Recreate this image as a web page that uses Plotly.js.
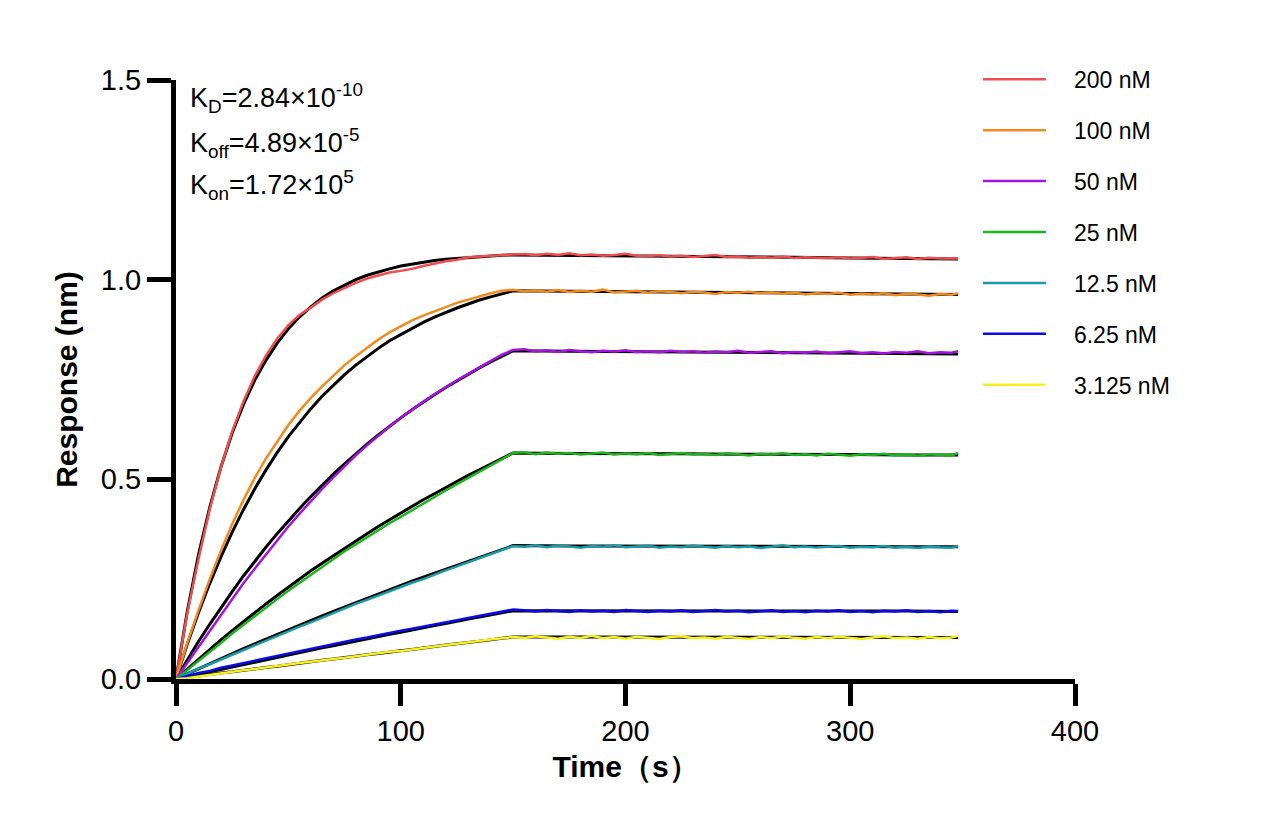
<!DOCTYPE html>
<html lang="en">
<head>
    <meta charset="UTF-8">
    <title>Binding kinetics</title>
    <script src="https://cdn.plot.ly/plotly-3.0.1.min.js"></script>
    <style>
        body { margin: 0; background: #fff; }
        #chart { width: 1284px; height: 832px; }
    </style>
</head>
<body>
<div id="chart"></div>
<script>
    // concentrations, legend names and colours
    var seriesNames = ['200 nM', '100 nM', '50 nM', '25 nM', '12.5 nM', '6.25 nM', '3.125 nM'];
    var seriesColors = ['#F04E4E', '#F28A1C', '#A414E0', '#1FB41F', '#1C9AA8', '#0B0BE6', '#FAF020'];

    // measured time points (s)
    var tData = [0, 5, 10, 15, 20, 25, 30, 35, 40, 45, 50, 55, 60, 65, 70, 75, 80, 85, 90, 95,
        100, 105, 110, 115, 120, 125, 130, 135, 140, 145, 150,
        155, 160, 165, 170, 175, 180, 185, 190, 195, 200, 205, 210, 215, 220, 225, 230, 235, 240, 245,
        250, 255, 260, 265, 270, 275, 280, 285, 290, 295, 300, 305, 310, 315, 320, 325, 330, 335, 340, 345, 348];

    // measured responses (nm)
    var data200 = [0, 0.165, 0.300, 0.425, 0.530, 0.620, 0.695, 0.758, 0.810, 0.852, 0.886, 0.912, 0.930, 0.950, 0.966, 0.980, 0.992, 1.003, 1.010, 1.018,
        1.022, 1.027, 1.034, 1.040, 1.046, 1.050, 1.056, 1.058, 1.060, 1.062, 1.063,
        1.064, 1.061, 1.065, 1.062, 1.066, 1.061, 1.063, 1.060, 1.062, 1.065, 1.060, 1.059, 1.061, 1.058, 1.060, 1.057, 1.059, 1.062, 1.057,
        1.058, 1.055, 1.057, 1.055, 1.058, 1.054, 1.056, 1.055, 1.054, 1.056, 1.053, 1.055, 1.057, 1.052, 1.054, 1.056, 1.052, 1.055, 1.053, 1.054, 1.053];
    var data100 = [0, 0.090, 0.172, 0.250, 0.322, 0.388, 0.448, 0.503, 0.552, 0.594, 0.636, 0.672, 0.704, 0.733, 0.760, 0.786, 0.808, 0.830, 0.850, 0.868,
        0.884, 0.898, 0.910, 0.921, 0.932, 0.942, 0.950, 0.958, 0.966, 0.972, 0.975,
        0.971, 0.973, 0.970, 0.974, 0.969, 0.972, 0.970, 0.975, 0.968, 0.970, 0.972, 0.967, 0.971, 0.969, 0.966, 0.970, 0.968, 0.964, 0.969,
        0.967, 0.970, 0.966, 0.968, 0.965, 0.968, 0.963, 0.966, 0.964, 0.967, 0.962, 0.965, 0.963, 0.966, 0.961, 0.965, 0.963, 0.960, 0.964, 0.962, 0.966];
    var data50 = [0, 0.040, 0.082, 0.122, 0.160, 0.200, 0.240, 0.276, 0.312, 0.347, 0.382, 0.414, 0.446, 0.476, 0.505, 0.533, 0.560, 0.585, 0.609, 0.632,
        0.654, 0.675, 0.694, 0.713, 0.731, 0.748, 0.764, 0.780, 0.796, 0.812, 0.824,
        0.826, 0.820, 0.823, 0.819, 0.824, 0.821, 0.818, 0.822, 0.820, 0.823, 0.819, 0.821, 0.818, 0.822, 0.819, 0.821, 0.817, 0.820, 0.818,
        0.822, 0.817, 0.819, 0.821, 0.816, 0.819, 0.817, 0.820, 0.816, 0.818, 0.821, 0.816, 0.818, 0.815, 0.819, 0.817, 0.821, 0.816, 0.818, 0.817, 0.821];
    var data25 = [0, 0.022, 0.046, 0.068, 0.090, 0.114, 0.136, 0.158, 0.180, 0.200, 0.221, 0.241, 0.262, 0.281, 0.300, 0.320, 0.337, 0.355, 0.372, 0.390,
        0.406, 0.423, 0.440, 0.456, 0.472, 0.488, 0.503, 0.518, 0.534, 0.550, 0.566,
        0.568, 0.563, 0.567, 0.564, 0.566, 0.562, 0.565, 0.567, 0.562, 0.565, 0.563, 0.566, 0.561, 0.564, 0.566, 0.562, 0.564, 0.561, 0.565,
        0.563, 0.560, 0.564, 0.562, 0.565, 0.561, 0.563, 0.560, 0.564, 0.562, 0.559, 0.563, 0.561, 0.564, 0.560, 0.562, 0.559, 0.563, 0.561, 0.560, 0.566];
    var data12 = [0, 0.014, 0.026, 0.037, 0.049, 0.061, 0.073, 0.085, 0.097, 0.108, 0.120, 0.131, 0.142, 0.154, 0.166, 0.176, 0.188, 0.198, 0.209, 0.220,
        0.230, 0.241, 0.250, 0.262, 0.272, 0.282, 0.292, 0.302, 0.312, 0.323, 0.333,
        0.331, 0.335, 0.330, 0.334, 0.332, 0.329, 0.333, 0.331, 0.335, 0.330, 0.332, 0.334, 0.329, 0.332, 0.330, 0.334, 0.331, 0.329, 0.333,
        0.330, 0.332, 0.328, 0.331, 0.335, 0.330, 0.332, 0.329, 0.331, 0.333, 0.329, 0.331, 0.330, 0.333, 0.329, 0.331, 0.328, 0.332, 0.330, 0.329, 0.333];
    var data6 = [0, 0.008, 0.015, 0.020, 0.028, 0.034, 0.040, 0.045, 0.052, 0.058, 0.063, 0.070, 0.076, 0.081, 0.087, 0.093, 0.099, 0.104, 0.110, 0.116,
        0.121, 0.126, 0.131, 0.137, 0.142, 0.147, 0.153, 0.158, 0.163, 0.168, 0.174,
        0.172, 0.169, 0.173, 0.170, 0.168, 0.172, 0.169, 0.171, 0.168, 0.173, 0.170, 0.168, 0.171, 0.169, 0.172, 0.168, 0.170, 0.173, 0.169,
        0.171, 0.167, 0.170, 0.172, 0.168, 0.170, 0.167, 0.171, 0.169, 0.172, 0.168, 0.170, 0.167, 0.171, 0.169, 0.172, 0.168, 0.170, 0.167, 0.171, 0.170];
    var data3 = [0, 0.002, 0.006, 0.010, 0.015, 0.018, 0.022, 0.025, 0.029, 0.033, 0.036, 0.040, 0.043, 0.047, 0.050, 0.053, 0.057, 0.060, 0.064, 0.068,
        0.070, 0.074, 0.078, 0.081, 0.085, 0.088, 0.092, 0.095, 0.099, 0.102, 0.105,
        0.103, 0.107, 0.104, 0.101, 0.106, 0.103, 0.108, 0.102, 0.105, 0.101, 0.106, 0.103, 0.100, 0.105, 0.107, 0.102, 0.104, 0.101, 0.106,
        0.103, 0.100, 0.105, 0.102, 0.107, 0.103, 0.101, 0.105, 0.102, 0.106, 0.103, 0.100, 0.104, 0.107, 0.102, 0.104, 0.101, 0.105, 0.102, 0.104, 0.108];

    // fitted curves (black), read at these times
    var tFit = [0, 5, 10, 15, 20, 25, 30, 35, 40, 45, 50, 55, 60, 65, 70, 75, 80, 85, 90, 95,
        100, 105, 110, 115, 120, 125, 130, 135, 140, 145, 150,
        175, 200, 225, 250, 275, 300, 325, 348];
    var fit200 = [0, 0.169, 0.311, 0.430, 0.531, 0.616, 0.687, 0.748, 0.798, 0.841, 0.877, 0.907, 0.932, 0.954, 0.972, 0.987, 1.000, 1.011, 1.020, 1.027,
        1.034, 1.039, 1.044, 1.048, 1.051, 1.053, 1.056, 1.058, 1.059, 1.061, 1.062,
        1.061, 1.059, 1.058, 1.057, 1.056, 1.054, 1.053, 1.052];
    var fit100 = [0, 0.087, 0.166, 0.239, 0.306, 0.368, 0.424, 0.476, 0.523, 0.567, 0.607, 0.643, 0.677, 0.708, 0.736, 0.762, 0.786, 0.808, 0.828, 0.847,
        0.863, 0.879, 0.893, 0.906, 0.918, 0.929, 0.939, 0.949, 0.957, 0.965, 0.972,
        0.971, 0.970, 0.968, 0.967, 0.966, 0.965, 0.964, 0.963];
    var fit50 = [0, 0.048, 0.094, 0.137, 0.179, 0.219, 0.258, 0.295, 0.330, 0.364, 0.396, 0.427, 0.457, 0.486, 0.513, 0.539, 0.564, 0.588, 0.611, 0.633,
        0.654, 0.674, 0.694, 0.712, 0.730, 0.747, 0.763, 0.779, 0.794, 0.808, 0.822,
        0.821, 0.820, 0.819, 0.818, 0.817, 0.816, 0.815, 0.814];
    var fit25 = [0, 0.025, 0.050, 0.074, 0.098, 0.121, 0.144, 0.166, 0.188, 0.209, 0.230, 0.251, 0.271, 0.290, 0.309, 0.328, 0.346, 0.364, 0.382, 0.399,
        0.416, 0.432, 0.449, 0.464, 0.480, 0.495, 0.510, 0.524, 0.538, 0.552, 0.566,
        0.565, 0.565, 0.564, 0.563, 0.563, 0.562, 0.561, 0.561];
    var fit12 = [0, 0.013, 0.026, 0.038, 0.051, 0.063, 0.076, 0.088, 0.100, 0.112, 0.123, 0.135, 0.146, 0.158, 0.169, 0.180, 0.191, 0.202, 0.213, 0.224,
        0.234, 0.245, 0.255, 0.265, 0.275, 0.285, 0.295, 0.305, 0.315, 0.324, 0.334,
        0.333, 0.333, 0.333, 0.332, 0.332, 0.332, 0.331, 0.331];
    var fit6 = [0, 0.006, 0.012, 0.018, 0.025, 0.031, 0.037, 0.043, 0.048, 0.054, 0.060, 0.066, 0.072, 0.078, 0.083, 0.089, 0.095, 0.100, 0.106, 0.112,
        0.117, 0.123, 0.128, 0.134, 0.139, 0.145, 0.150, 0.155, 0.161, 0.166, 0.171,
        0.171, 0.171, 0.171, 0.170, 0.170, 0.170, 0.170, 0.169];
    var fit3 = [0, 0.004, 0.007, 0.011, 0.015, 0.018, 0.022, 0.025, 0.029, 0.032, 0.036, 0.040, 0.043, 0.047, 0.050, 0.054, 0.057, 0.061, 0.064, 0.068,
        0.071, 0.074, 0.078, 0.081, 0.085, 0.088, 0.091, 0.095, 0.098, 0.102, 0.105,
        0.105, 0.105, 0.105, 0.104, 0.104, 0.104, 0.104, 0.104];

    var measured = [data200, data100, data50, data25, data12, data6, data3];
    var fitted = [fit200, fit100, fit50, fit25, fit12, fit6, fit3];

    var font = 'Liberation Sans, Arial, sans-serif';
    var traces = [];

    // black fit curves go underneath
    fitted.forEach(function (ys, i) {
        traces.push({
            x: tFit, y: ys, type: 'scatter', mode: 'lines',
            showlegend: false, legendgroup: 'g' + i, hoverinfo: 'skip',
            line: { color: '#000', width: 3 }
        });
    });
    // coloured measured traces on top
    measured.forEach(function (ys, i) {
        traces.push({
            x: tData, y: ys, type: 'scatter', mode: 'lines',
            name: '\u2003' + seriesNames[i], legendgroup: 'g' + i,
            line: { color: seriesColors[i], width: 2.5 }
        });
    });

    var layout = {
        width: 1284, height: 832,
        margin: { l: 176, r: 209, t: 80, b: 153 },
        paper_bgcolor: '#fff', plot_bgcolor: '#fff',
        font: { family: font, color: '#000' },
        showlegend: true,
        legend: {
            x: 0.892, y: 1.037, xanchor: 'left', yanchor: 'top',
            font: { size: 23, family: font },
            traceorder: 'grouped', tracegroupgap: 18,
            itemwidth: 63, bgcolor: 'rgba(0,0,0,0)'
        },
        xaxis: {
            range: [0, 400], dtick: 100, tick0: 0,
            showgrid: false, zeroline: false,
            showline: true, linewidth: 5, linecolor: '#000',
            ticks: 'outside', ticklen: 22, tickwidth: 5, tickcolor: '#000',
            tickfont: { size: 29, family: font },
            title: { text: '<b>Time（s）</b>', font: { size: 30, family: font }, standoff: 12 }
        },
        yaxis: {
            range: [0, 1.5], dtick: 0.5, tick0: 0, tickformat: '.1f',
            showgrid: false, zeroline: false,
            showline: true, linewidth: 5, linecolor: '#000',
            ticks: 'outside', ticklen: 24, tickwidth: 5, tickcolor: '#000',
            tickfont: { size: 29, family: font },
            title: { text: '<b>Response (nm)</b>', font: { size: 30, family: font }, standoff: 16 }
        },
        annotations: [
            { xref: 'paper', yref: 'paper', x: 0.013, y: 0.97, xanchor: 'left', yanchor: 'middle', showarrow: false,
              text: 'K<sub>D</sub>=2.84×10<sup>-10</sup>', font: { size: 27, family: font } },
            { xref: 'paper', yref: 'paper', x: 0.013, y: 0.895, xanchor: 'left', yanchor: 'middle', showarrow: false,
              text: 'K<sub>off</sub>=4.89×10<sup>-5</sup>', font: { size: 27, family: font } },
            { xref: 'paper', yref: 'paper', x: 0.013, y: 0.825, xanchor: 'left', yanchor: 'middle', showarrow: false,
              text: 'K<sub>on</sub>=1.72×10<sup>5</sup>', font: { size: 27, family: font } }
        ]
    };

    Plotly.newPlot('chart', traces, layout, { displayModeBar: false, staticPlot: true });
</script>
</body>
</html>
